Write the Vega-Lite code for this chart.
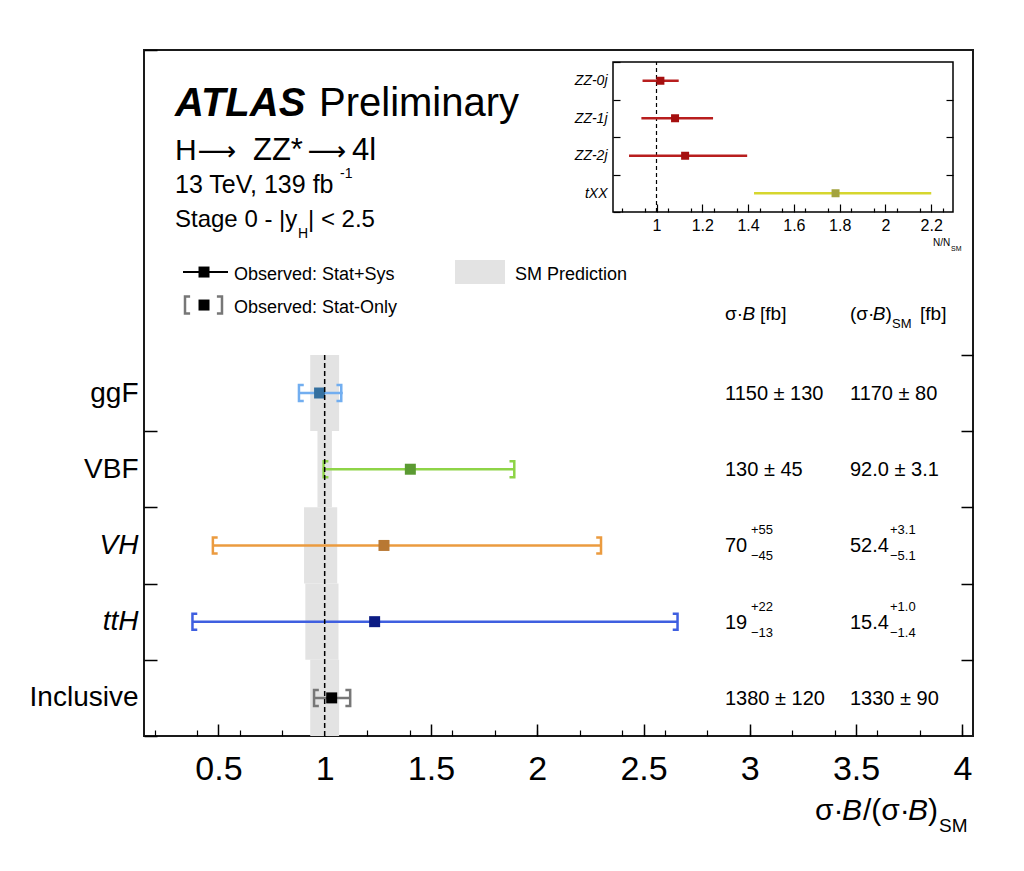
{
"$schema": "https://vega.github.io/schema/vega-lite/v6.json",
"width": 829, "height": 686,
"autosize": {"type": "none"},
"padding": {"left": 144, "top": 50, "right": 51, "bottom": 135},
"background": "white",
"config": {
 "font": "Liberation Sans",
 "view": {"stroke": "#1a1a1a", "strokeWidth": 2},
 "axis": {"grid": false, "domain": false, "labelColor": "black", "tickColor": "black"},
 "text": {"color": "black", "align": "left", "baseline": "alphabetic"}
},
"datasets": {
 "main": [
  {"cat": "ggF", "mu": 0.976, "tot_lo": 0.875, "tot_hi": 1.085, "stat_lo": 0.879, "stat_hi": 1.078, "sm_lo": 0.932, "sm_hi": 1.068, "xs": "1150 ± 130", "xs_up": "", "xs_dn": "", "sm": "1170 ± 80", "sm_up": "", "sm_dn": ""},
  {"cat": "VBF", "mu": 1.403, "tot_lo": 0.99, "tot_hi": 1.895, "stat_lo": 0.995, "stat_hi": 1.892, "sm_lo": 0.966, "sm_hi": 1.034, "xs": "130 ± 45", "xs_up": "", "xs_dn": "", "sm": "92.0 ± 3.1", "sm_up": "", "sm_dn": ""},
  {"cat": "VH", "mu": 1.279, "tot_lo": 0.474, "tot_hi": 2.3, "stat_lo": 0.474, "stat_hi": 2.3, "sm_lo": 0.903, "sm_hi": 1.059, "xs": "70", "xs_up": "+55", "xs_dn": "−45", "sm": "52.4", "sm_up": "+3.1", "sm_dn": "−5.1"},
  {"cat": "ttH", "mu": 1.235, "tot_lo": 0.378, "tot_hi": 2.66, "stat_lo": 0.378, "stat_hi": 2.66, "sm_lo": 0.909, "sm_hi": 1.065, "xs": "19", "xs_up": "+22", "xs_dn": "−13", "sm": "15.4", "sm_up": "+1.0", "sm_dn": "−1.4"},
  {"cat": "Inclusive", "mu": 1.033, "tot_lo": 0.95, "tot_hi": 1.12, "stat_lo": 0.95, "stat_hi": 1.12, "sm_lo": 0.932, "sm_hi": 1.068, "xs": "1380 ± 120", "xs_up": "", "xs_dn": "", "sm": "1330 ± 90", "sm_up": "", "sm_dn": ""}
 ],
 "inset": [
  {"cat": "ZZ-0j", "mu": 1.017, "lo": 0.939, "hi": 1.097},
  {"cat": "ZZ-1j", "mu": 1.081, "lo": 0.934, "hi": 1.247},
  {"cat": "ZZ-2j", "mu": 1.125, "lo": 0.88, "hi": 1.396},
  {"cat": "tXX", "mu": 1.782, "lo": 1.426, "hi": 2.2}
 ]
},
"resolve": {"scale": {"x": "independent", "y": "independent", "stroke": "independent", "fill": "independent"}, "axis": {"x": "independent", "y": "independent"}},
"layer": [
 {
  "data": {"name": "main"},
  "layer": [
   {"mark": {"type": "rect", "color": "#e3e3e3"},
    "encoding": {
     "x": {"field": "sm_lo", "type": "quantitative", "scale": {"domain": [0.15, 4.05], "nice": false, "zero": false},
       "axis": {"orient": "bottom", "values": [0.5, 1, 1.5, 2, 2.5, 3, 3.5, 4], "format": "~g", "tickSize": -12, "tickWidth": 1.5, "labelFontSize": 34, "labelPadding": 28, "labelFlush": false, "labelOverlap": false, "domain": false, "grid": false, "title": null}},
     "x2": {"field": "sm_hi"},
     "y": {"field": "cat", "type": "nominal", "scale": {"domain": ["h1", "h2", "h3", "h4", "ggF", "VBF", "VH", "ttH", "Inclusive"], "paddingInner": 0, "paddingOuter": 0},
       "axis": {"orient": "left", "tickBand": "extent", "tickSize": -13, "tickWidth": 1.5,
         "tickOpacity": {"condition": {"test": "indexof(['h1','h2','h3','h4'], datum.value) >= 0", "value": 0}, "value": 1},
         "labelExpr": "indexof(['h1','h2','h3','h4'], datum.value) >= 0 ? '' : datum.value",
         "labelFontSize": 28, "labelPadding": 19, "labelLimit": 0,
         "labelFontStyle": {"condition": {"test": "datum.value == 'VH' || datum.value == 'ttH'", "value": "italic"}, "value": "normal"},
         "domain": false, "grid": false, "title": null}}
    }},
   {"mark": {"type": "rule", "strokeWidth": 2.5},
    "encoding": {
     "x": {"field": "tot_lo", "type": "quantitative"},
     "x2": {"field": "tot_hi"},
     "y": {"field": "cat", "type": "nominal"},
     "stroke": {"field": "cat", "type": "nominal", "scale": {"domain": ["ggF", "VBF", "VH", "ttH", "Inclusive"], "range": ["#72aef0", "#8ed447", "#eb9b3f", "#3f5fe0", "#777777"]}, "legend": null}
    }},
   {"mark": {"type": "point", "shape": "M0.6,-1L0,-1L0,1L0.6,1", "filled": false, "size": 256, "strokeWidth": 2.5, "opacity": 1},
    "encoding": {
     "x": {"field": "stat_lo", "type": "quantitative"},
     "y": {"field": "cat", "type": "nominal"},
     "stroke": {"field": "cat", "type": "nominal", "legend": null}
    }},
   {"mark": {"type": "point", "shape": "M-0.6,-1L0,-1L0,1L-0.6,1", "filled": false, "size": 256, "strokeWidth": 2.5, "opacity": 1},
    "encoding": {
     "x": {"field": "stat_hi", "type": "quantitative"},
     "y": {"field": "cat", "type": "nominal"},
     "stroke": {"field": "cat", "type": "nominal", "legend": null}
    }},
   {"mark": {"type": "point", "shape": "square", "filled": true, "size": 121, "opacity": 1},
    "encoding": {
     "x": {"field": "mu", "type": "quantitative"},
     "y": {"field": "cat", "type": "nominal"},
     "fill": {"field": "cat", "type": "nominal", "scale": {"domain": ["ggF", "VBF", "VH", "ttH", "Inclusive"], "range": ["#35709f", "#5b9a32", "#b87833", "#0c1c84", "#000000"]}, "legend": null}
    }},
   {"mark": {"type": "text", "fontSize": 20, "align": "left", "baseline": "middle", "dy": 1},
    "encoding": {"x": {"datum": 2.8833, "type": "quantitative"}, "y": {"field": "cat", "type": "nominal"}, "text": {"field": "xs", "type": "nominal"}}},
   {"mark": {"type": "text", "fontSize": 13, "align": "left", "baseline": "middle", "dx": 26, "dy": -15},
    "encoding": {"x": {"datum": 2.8833, "type": "quantitative"}, "y": {"field": "cat", "type": "nominal"}, "text": {"field": "xs_up", "type": "nominal"}}},
   {"mark": {"type": "text", "fontSize": 13, "align": "left", "baseline": "middle", "dx": 26, "dy": 11},
    "encoding": {"x": {"datum": 2.8833, "type": "quantitative"}, "y": {"field": "cat", "type": "nominal"}, "text": {"field": "xs_dn", "type": "nominal"}}},
   {"mark": {"type": "text", "fontSize": 20, "align": "left", "baseline": "middle", "dy": 1},
    "encoding": {"x": {"datum": 3.4713, "type": "quantitative"}, "y": {"field": "cat", "type": "nominal"}, "text": {"field": "sm", "type": "nominal"}}},
   {"mark": {"type": "text", "fontSize": 13, "align": "left", "baseline": "middle", "dx": 40, "dy": -15},
    "encoding": {"x": {"datum": 3.4713, "type": "quantitative"}, "y": {"field": "cat", "type": "nominal"}, "text": {"field": "sm_up", "type": "nominal"}}},
   {"mark": {"type": "text", "fontSize": 13, "align": "left", "baseline": "middle", "dx": 40, "dy": 11},
    "encoding": {"x": {"datum": 3.4713, "type": "quantitative"}, "y": {"field": "cat", "type": "nominal"}, "text": {"field": "sm_dn", "type": "nominal"}}}
  ]
 },
 {
  "data": {"values": [{}]},
  "layer": [
   {"mark": {"type": "rule", "strokeDash": [5, 3], "strokeWidth": 1.5, "color": "black"},
    "encoding": {
     "x": {"datum": 1, "type": "quantitative", "scale": {"domain": [0.15, 4.05], "nice": false, "zero": false},
       "axis": {"orient": "bottom", "values": [0.2,0.3,0.4,0.5,0.6,0.7,0.8,0.9,1,1.1,1.2,1.3,1.4,1.5,1.6,1.7,1.8,1.9,2,2.1,2.2,2.3,2.4,2.5,2.6,2.7,2.8,2.9,3,3.1,3.2,3.3,3.4,3.5,3.6,3.7,3.8,3.9,4], "tickSize": -6, "tickWidth": 1.2, "labels": false, "domain": false, "grid": false, "title": null}},
     "y": {"datum": 0, "type": "quantitative", "scale": {"domain": [0, 9], "nice": false, "zero": false},
       "axis": {"orient": "right", "values": [1, 2, 3, 4, 5], "tickSize": -12, "tickWidth": 1.5, "labels": false, "domain": false, "grid": false, "title": null}},
     "y2": {"datum": 5}
    }},
   {"mark": {"type": "rule", "strokeWidth": 2, "color": "black"},
    "encoding": {"x": {"datum": 0.3335, "type": "quantitative"}, "x2": {"datum": 0.5452}, "y": {"datum": 6.087, "type": "quantitative"}}},
   {"mark": {"type": "point", "shape": "square", "filled": true, "size": 121, "opacity": 1, "color": "black"},
    "encoding": {"x": {"datum": 0.4323, "type": "quantitative"}, "y": {"datum": 6.087, "type": "quantitative"}}},
   {"mark": {"type": "point", "shape": "M0.6,-1L0,-1L0,1L0.6,1", "filled": false, "size": 289, "strokeWidth": 2.5, "opacity": 1, "color": "#777777"},
    "encoding": {"x": {"datum": 0.3429, "type": "quantitative"}, "y": {"datum": 5.654, "type": "quantitative"}}},
   {"mark": {"type": "point", "shape": "M-0.6,-1L0,-1L0,1L-0.6,1", "filled": false, "size": 289, "strokeWidth": 2.5, "opacity": 1, "color": "#777777"},
    "encoding": {"x": {"datum": 0.5169, "type": "quantitative"}, "y": {"datum": 5.654, "type": "quantitative"}}},
   {"mark": {"type": "point", "shape": "square", "filled": true, "size": 121, "opacity": 1, "color": "black"},
    "encoding": {"x": {"datum": 0.4323, "type": "quantitative"}, "y": {"datum": 5.654, "type": "quantitative"}}},
   {"mark": {"type": "rect", "color": "#e3e3e3"},
    "encoding": {"x": {"datum": 1.6131, "type": "quantitative"}, "x2": {"datum": 1.8483}, "y": {"datum": 5.93, "type": "quantitative"}, "y2": {"datum": 6.245}}},
   {"mark": {"type": "text", "text": "ATLAS", "fontSize": 40, "fontWeight": "bold", "fontStyle": "italic"},
    "encoding": {"x": {"datum": 0.2958, "type": "quantitative"}, "y": {"datum": 8.134, "type": "quantitative"}}},
   {"mark": {"type": "text", "text": "Preliminary", "fontSize": 40},
    "encoding": {"x": {"datum": 0.9733, "type": "quantitative"}, "y": {"datum": 8.134, "type": "quantitative"}}},
   {"mark": {"type": "text", "text": "H", "fontSize": 30},
    "encoding": {"x": {"datum": 0.2958, "type": "quantitative"}, "y": {"datum": 7.557, "type": "quantitative"}}},
   {"mark": {"type": "text", "text": "⟶", "fontSize": 27, "font": "DejaVu Sans", "align": "center"},
    "encoding": {"x": {"datum": 0.4934, "type": "quantitative"}, "y": {"datum": 7.557, "type": "quantitative"}}},
   {"mark": {"type": "text", "text": "ZZ*", "fontSize": 31},
    "encoding": {"x": {"datum": 0.6628, "type": "quantitative"}, "y": {"datum": 7.557, "type": "quantitative"}}},
   {"mark": {"type": "text", "text": "⟶", "fontSize": 27, "font": "DejaVu Sans", "align": "center"},
    "encoding": {"x": {"datum": 1.0109, "type": "quantitative"}, "y": {"datum": 7.557, "type": "quantitative"}}},
   {"mark": {"type": "text", "text": "4l", "fontSize": 31},
    "encoding": {"x": {"datum": 1.1285, "type": "quantitative"}, "y": {"datum": 7.557, "type": "quantitative"}}},
   {"mark": {"type": "text", "text": "13 TeV, 139 fb", "fontSize": 25},
    "encoding": {"x": {"datum": 0.2958, "type": "quantitative"}, "y": {"datum": 7.124, "type": "quantitative"}}},
   {"mark": {"type": "text", "text": "-1", "fontSize": 14},
    "encoding": {"x": {"datum": 1.0721, "type": "quantitative"}, "y": {"datum": 7.321, "type": "quantitative"}}},
   {"mark": {"type": "text", "text": "Stage 0 - |y", "fontSize": 24},
    "encoding": {"x": {"datum": 0.2958, "type": "quantitative"}, "y": {"datum": 6.678, "type": "quantitative"}}},
   {"mark": {"type": "text", "text": "H", "fontSize": 14},
    "encoding": {"x": {"datum": 0.8745, "type": "quantitative"}, "y": {"datum": 6.533, "type": "quantitative"}}},
   {"mark": {"type": "text", "text": "| < 2.5", "fontSize": 24},
    "encoding": {"x": {"datum": 0.9215, "type": "quantitative"}, "y": {"datum": 6.678, "type": "quantitative"}}},
   {"mark": {"type": "text", "text": "Observed: Stat+Sys", "fontSize": 18},
    "encoding": {"x": {"datum": 0.5734, "type": "quantitative"}, "y": {"datum": 5.983, "type": "quantitative"}}},
   {"mark": {"type": "text", "text": "Observed: Stat-Only", "fontSize": 18},
    "encoding": {"x": {"datum": 0.5734, "type": "quantitative"}, "y": {"datum": 5.55, "type": "quantitative"}}},
   {"mark": {"type": "text", "text": "SM Prediction", "fontSize": 18},
    "encoding": {"x": {"datum": 1.8954, "type": "quantitative"}, "y": {"datum": 5.983, "type": "quantitative"}}},
   {"mark": {"type": "text", "text": "σ·", "fontSize": 19},
    "encoding": {"x": {"datum": 2.8833, "type": "quantitative"}, "y": {"datum": 5.458, "type": "quantitative"}}},
   {"mark": {"type": "text", "text": "B", "fontSize": 19, "fontStyle": "italic"},
    "encoding": {"x": {"datum": 2.9657, "type": "quantitative"}, "y": {"datum": 5.458, "type": "quantitative"}}},
   {"mark": {"type": "text", "text": "[fb]", "fontSize": 19},
    "encoding": {"x": {"datum": 3.048, "type": "quantitative"}, "y": {"datum": 5.458, "type": "quantitative"}}},
   {"mark": {"type": "text", "text": "(σ·", "fontSize": 19},
    "encoding": {"x": {"datum": 3.4713, "type": "quantitative"}, "y": {"datum": 5.458, "type": "quantitative"}}},
   {"mark": {"type": "text", "text": "B", "fontSize": 19, "fontStyle": "italic"},
    "encoding": {"x": {"datum": 3.5786, "type": "quantitative"}, "y": {"datum": 5.458, "type": "quantitative"}}},
   {"mark": {"type": "text", "text": ")", "fontSize": 19},
    "encoding": {"x": {"datum": 3.6384, "type": "quantitative"}, "y": {"datum": 5.458, "type": "quantitative"}}},
   {"mark": {"type": "text", "text": "SM", "fontSize": 13},
    "encoding": {"x": {"datum": 3.669, "type": "quantitative"}, "y": {"datum": 5.353, "type": "quantitative"}}},
   {"mark": {"type": "text", "text": "[fb]", "fontSize": 19},
    "encoding": {"x": {"datum": 3.8007, "type": "quantitative"}, "y": {"datum": 5.458, "type": "quantitative"}}},
   {"mark": {"type": "text", "text": "σ·", "fontSize": 30},
    "encoding": {"x": {"datum": 3.3067, "type": "quantitative"}, "y": {"datum": -1.102, "type": "quantitative"}}},
   {"mark": {"type": "text", "text": "B", "fontSize": 30, "fontStyle": "italic"},
    "encoding": {"x": {"datum": 3.4337, "type": "quantitative"}, "y": {"datum": -1.102, "type": "quantitative"}}},
   {"mark": {"type": "text", "text": "/(σ·", "fontSize": 30},
    "encoding": {"x": {"datum": 3.5325, "type": "quantitative"}, "y": {"datum": -1.102, "type": "quantitative"}}},
   {"mark": {"type": "text", "text": "B", "fontSize": 30, "fontStyle": "italic"},
    "encoding": {"x": {"datum": 3.7442, "type": "quantitative"}, "y": {"datum": -1.102, "type": "quantitative"}}},
   {"mark": {"type": "text", "text": ")", "fontSize": 30},
    "encoding": {"x": {"datum": 3.8383, "type": "quantitative"}, "y": {"datum": -1.102, "type": "quantitative"}}},
   {"mark": {"type": "text", "text": "SM", "fontSize": 19},
    "encoding": {"x": {"datum": 3.8901, "type": "quantitative"}, "y": {"datum": -1.259, "type": "quantitative"}}}
  ]
 },
 {
  "data": {"values": [{}]},
  "layer": [
   {"mark": {"type": "rect", "fill": "white", "fillOpacity": 0, "stroke": "black", "strokeWidth": 1.5},
    "encoding": {
     "x": {"datum": 0.81, "type": "quantitative", "scale": {"domain": [0.81, 2.295], "range": [469, 809], "nice": false, "zero": false},
       "axis": {"orient": "bottom", "offset": -524, "values": [0.85,0.9,0.95,1,1.05,1.1,1.15,1.2,1.25,1.3,1.35,1.4,1.45,1.5,1.55,1.6,1.65,1.7,1.75,1.8,1.85,1.9,1.95,2,2.05,2.1,2.15,2.2,2.25], "tickSize": -4, "tickWidth": 1.2, "labels": false, "domain": false, "grid": false, "title": null}},
     "x2": {"datum": 2.295},
     "y": {"datum": 0, "type": "quantitative", "scale": {"domain": [0, 4], "range": [162, 12], "nice": false, "zero": false},
       "axis": {"orient": "right", "offset": -20, "values": [1, 2, 3], "tickSize": -7, "tickWidth": 1.2, "labels": false, "domain": false, "grid": false, "title": null}},
     "y2": {"datum": 4}
    }},
   {"mark": {"type": "rule", "strokeDash": [4, 3], "strokeWidth": 1.2, "color": "black"},
    "encoding": {"x": {"datum": 1, "type": "quantitative"}, "y": {"datum": 0, "type": "quantitative"}, "y2": {"datum": 4}}},
   {"mark": {"type": "text", "text": "N/N", "fontSize": 10},
    "encoding": {"x": {"datum": 2.2076, "type": "quantitative"}, "y": {"datum": -0.907, "type": "quantitative"}}},
   {"mark": {"type": "text", "text": "SM", "fontSize": 7},
    "encoding": {"x": {"datum": 2.2862, "type": "quantitative"}, "y": {"datum": -1.04, "type": "quantitative"}}}
  ]
 },
 {
  "data": {"name": "inset"},
  "layer": [
   {"mark": {"type": "rule", "strokeWidth": 2.5},
    "encoding": {
     "x": {"field": "lo", "type": "quantitative", "scale": {"domain": [0.81, 2.295], "range": [469, 809], "nice": false, "zero": false},
       "axis": {"orient": "bottom", "offset": -524, "values": [1, 1.2, 1.4, 1.6, 1.8, 2, 2.2], "format": "~g", "tickSize": -8, "tickWidth": 1.2, "labelFontSize": 16, "labelPadding": 13, "labelFlush": false, "labelOverlap": false, "domain": false, "grid": false, "title": null}},
     "x2": {"field": "hi"},
     "y": {"field": "cat", "type": "nominal", "scale": {"domain": ["ZZ-0j", "ZZ-1j", "ZZ-2j", "tXX"], "range": [12, 162], "paddingInner": 0, "paddingOuter": 0},
       "axis": {"orient": "left", "offset": -469, "tickBand": "extent", "tickSize": -7, "tickWidth": 1.2, "labelFontSize": 14, "labelFontStyle": "italic", "labelPadding": 13, "domain": false, "grid": false, "title": null}},
     "stroke": {"field": "cat", "type": "nominal", "scale": {"domain": ["ZZ-0j", "ZZ-1j", "ZZ-2j", "tXX"], "range": ["#b81e1e", "#b81e1e", "#b81e1e", "#d6d62e"]}, "legend": null}
    }},
   {"mark": {"type": "point", "shape": "square", "filled": true, "size": 64, "opacity": 1},
    "encoding": {
     "x": {"field": "mu", "type": "quantitative"},
     "y": {"field": "cat", "type": "nominal"},
     "fill": {"field": "cat", "type": "nominal", "scale": {"domain": ["ZZ-0j", "ZZ-1j", "ZZ-2j", "tXX"], "range": ["#a50f0f", "#a50f0f", "#a50f0f", "#a3a33e"]}, "legend": null}
    }}
  ]
 }
]
}
